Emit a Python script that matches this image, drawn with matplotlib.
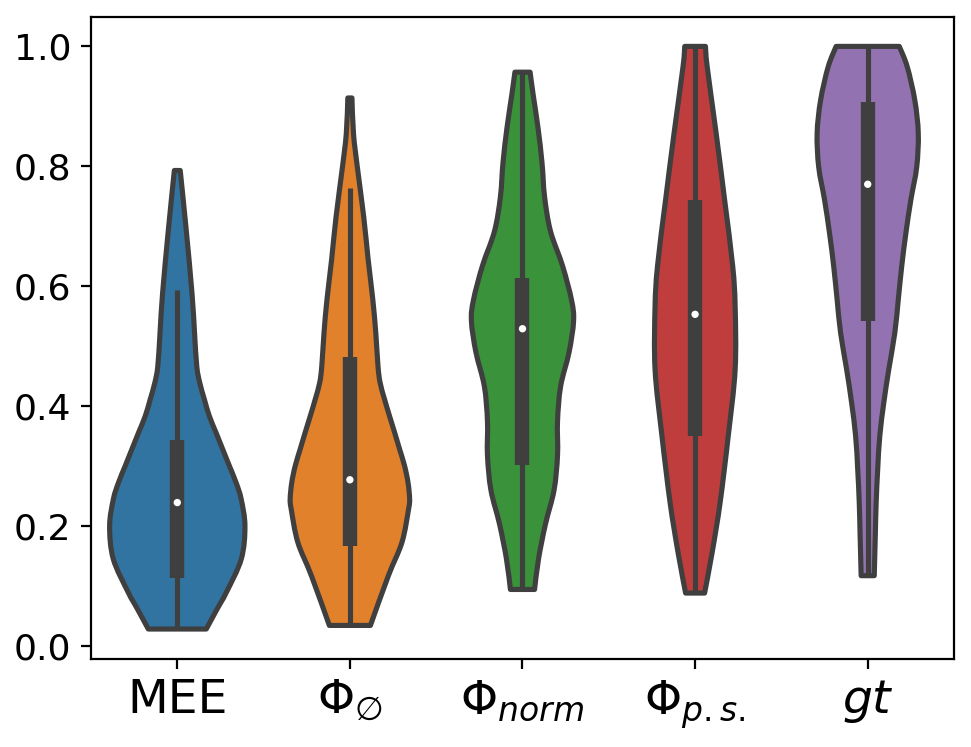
import numpy as np
import matplotlib
matplotlib.use("Agg")
import matplotlib.pyplot as plt
from matplotlib.path import Path
from matplotlib.patches import PathPatch

labels = ["MEE", r"$\Phi_{\emptyset}$", r"$\Phi_{norm}$", r"$\Phi_{p.s.}$", r"$gt$"]
colors = ["#3274a1", "#e1812c", "#3a923a", "#c03d3e", "#9372b2"]
gray = "#3f3f3f"

# violin outlines: value -> half width (category units)
mee_v = [0.028, 0.062, 0.089, 0.145, 0.200, 0.245, 0.272, 0.300, 0.328, 0.356, 0.383, 0.411, 0.439, 0.466,
         0.522, 0.589, 0.699, 0.793]
mee_w = [0.168, 0.232, 0.284, 0.371, 0.392, 0.370, 0.341, 0.302, 0.263, 0.224, 0.186, 0.157, 0.130, 0.113,
         0.100, 0.085, 0.050, 0.017]

empty_v = [0.034, 0.117, 0.173, 0.228, 0.245, 0.272, 0.300, 0.328, 0.356, 0.383, 0.411, 0.439, 0.466,
           0.522, 0.577, 0.644, 0.716, 0.799, 0.854, 0.914]
empty_w = [0.119, 0.223, 0.302, 0.340, 0.346, 0.337, 0.317, 0.288, 0.259, 0.230, 0.201, 0.175, 0.163,
           0.150, 0.133, 0.106, 0.080, 0.043, 0.021, 0.012]

norm_v = [0.094, 0.145, 0.203, 0.260, 0.318, 0.375, 0.433, 0.490, 0.542, 0.577, 0.634, 0.692, 0.749, 0.806,
          0.864, 0.921, 0.957]
norm_w = [0.070, 0.093, 0.133, 0.183, 0.203, 0.203, 0.221, 0.270, 0.296, 0.284, 0.232, 0.162, 0.128, 0.113,
          0.090, 0.061, 0.044]

ps_v = [0.088, 0.156, 0.239, 0.350, 0.461, 0.566, 0.633, 0.744, 0.855, 0.966, 1.000]
ps_w = [0.055, 0.099, 0.145, 0.192, 0.232, 0.232, 0.218, 0.171, 0.122, 0.070, 0.060]

gt_v = [0.117, 0.184, 0.239, 0.295, 0.350, 0.405, 0.461, 0.522, 0.577, 0.633, 0.688, 0.744, 0.799, 0.855,
        0.910, 0.966, 1.000]
gt_w = [0.038, 0.044, 0.049, 0.058, 0.070, 0.093, 0.122, 0.157, 0.177, 0.197, 0.221, 0.250, 0.284, 0.293,
        0.273, 0.229, 0.183]

# box stats: q1, median, q3, whisker low, whisker high
q1 = [0.113, 0.167, 0.301, 0.350, 0.542]
med = [0.239, 0.277, 0.529, 0.553, 0.770]
q3 = [0.343, 0.481, 0.614, 0.744, 0.907]
wlo = [0.028, 0.034, 0.094, 0.088, 0.117]
whi = [0.593, 0.763, 0.957, 1.000, 1.000]

outlines = [(mee_v, mee_w), (empty_v, empty_w), (norm_v, norm_w), (ps_v, ps_w), (gt_v, gt_w)]


def bezier_side(pts):
    # catmull-rom through the points, as cubic bezier segments
    p = np.vstack([pts[0], pts, pts[-1]])
    verts = []
    for i in range(1, len(p) - 2):
        c1 = p[i] + (p[i + 1] - p[i - 1]) / 6.0
        c2 = p[i + 1] - (p[i + 2] - p[i]) / 6.0
        verts += [c1, c2, p[i + 1]]
    return verts


def violin_path(pos, v, w):
    v = np.asarray(v)
    w = np.asarray(w)
    right = np.column_stack([pos + w, v])
    left = np.column_stack([pos - w, v])[::-1]
    verts = [right[0]] + bezier_side(right) + [left[0]] + bezier_side(left) + [right[0]]
    codes = [Path.MOVETO] + [Path.CURVE4] * (3 * (len(right) - 1)) + [Path.LINETO] \
        + [Path.CURVE4] * (3 * (len(left) - 1)) + [Path.CLOSEPOLY]
    return Path(verts, codes)


fig = plt.figure(figsize=(4.855, 3.735), dpi=200)
ax = fig.add_subplot(111)
fig.subplots_adjust(left=0.0937, right=0.9825, top=0.9772, bottom=0.1178)

lw = 1.85
for i, (v, w) in enumerate(outlines):
    patch = PathPatch(violin_path(i, v, w), facecolor=colors[i], edgecolor=gray,
                      linewidth=lw, joinstyle="round", zorder=1)
    ax.add_patch(patch)
    ax.plot([i, i], [wlo[i], whi[i]], color=gray, linewidth=lw, solid_capstyle="butt", zorder=2)
    ax.plot([i, i], [q1[i], q3[i]], color=gray, linewidth=lw * 2.8, solid_capstyle="butt", zorder=2)
    ax.scatter(i, med[i], s=7, color="white", edgecolor="none", zorder=3)

ax.set_xlim(-0.5, 4.5)
ax.set_ylim(-0.022, 1.049)
ax.set_yticks([0.0, 0.2, 0.4, 0.6, 0.8, 1.0])
ax.set_xticks(range(len(labels)))
ax.set_xticklabels(labels, fontsize=17)
ax.tick_params(axis="y", labelsize=13)

fig.savefig("out.png", dpi=200)
